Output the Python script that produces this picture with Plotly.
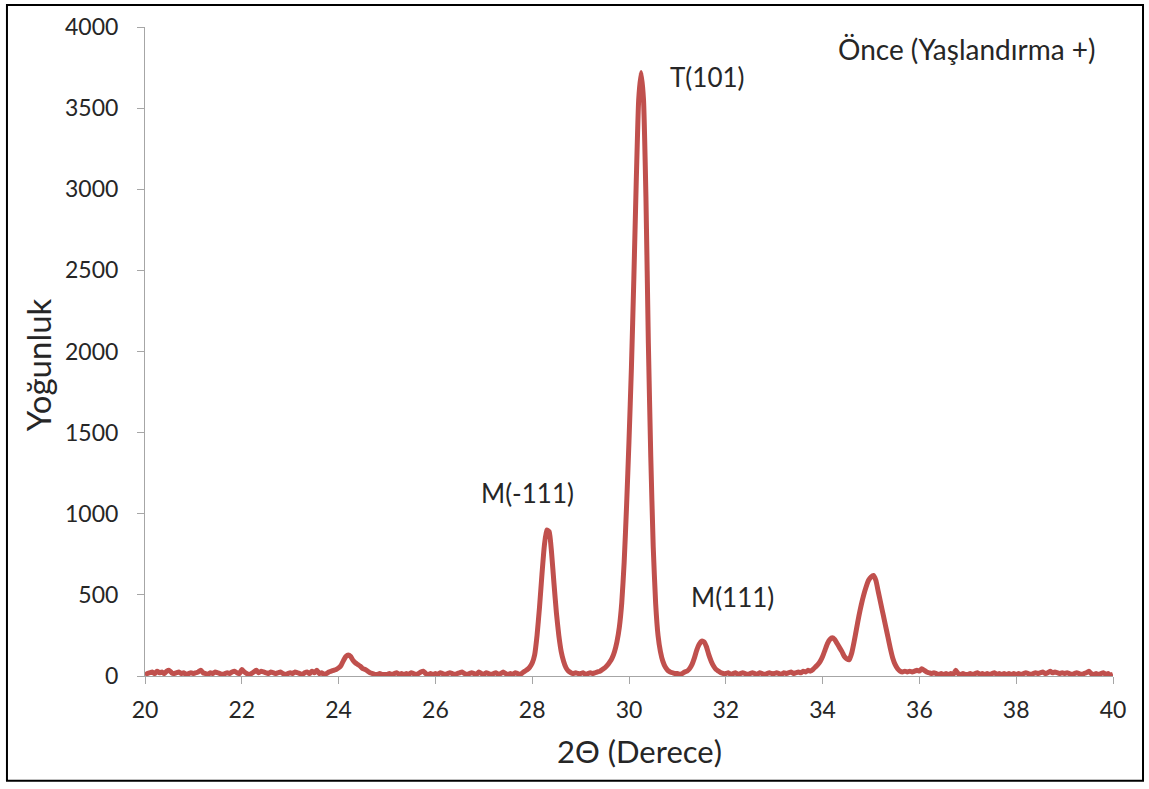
import numpy as np
import plotly.graph_objects as go

# 2-theta scan grid (0.05 degree step, 20..40)
two_theta = np.round(np.arange(0, 401) * 0.05 + 20.0, 2)

# Intensity, one row per degree (20 values each) + final point
intensity_rows = [
    [5, 15, 20, 25, 15, 30, 20, 25, 15, 30, 35, 20, 15, 20, 25, 15, 20, 10, 15, 20],            # 20
    [15, 20, 25, 35, 20, 15, 10, 20, 15, 25, 20, 15, 10, 15, 20, 15, 25, 30, 20, 15],           # 21
    [40, 25, 15, 10, 15, 25, 35, 20, 30, 25, 20, 15, 25, 20, 15, 20, 25, 15, 10, 15],           # 22
    [20, 15, 25, 20, 15, 10, 20, 25, 15, 30, 20, 35, 15, 20, 10, 15, 25, 30, 35, 40],           # 23
    [50, 65, 95, 120, 130, 120, 95, 80, 70, 60, 45, 40, 30, 20, 15, 10, 10, 15, 10, 10],        # 24
    [10, 15, 10, 15, 20, 10, 15, 10, 15, 10, 20, 15, 10, 15, 25, 30, 15, 10, 15, 10],           # 25
    [15, 10, 20, 15, 10, 15, 20, 15, 10, 15, 20, 25, 15, 10, 15, 20, 15, 10, 25, 15],           # 26
    [10, 20, 15, 10, 15, 20, 10, 15, 25, 15, 10, 15, 10, 20, 15, 10, 20, 30, 40, 55],           # 27
    [80, 130, 250, 420, 620, 800, 900, 890, 760, 570, 390, 250, 150, 90, 50, 30, 20, 15, 20, 15],  # 28
    [15, 20, 10, 15, 20, 15, 20, 25, 30, 40, 50, 65, 85, 110, 150, 210, 300, 450, 700, 1050],   # 29
    [1450, 1900, 2450, 3050, 3550, 3720, 3550, 2950, 2050, 1350, 800, 450, 250, 150, 90, 55, 35, 25, 20, 15],  # 30
    [15, 10, 15, 25, 30, 45, 70, 110, 160, 195, 215, 210, 180, 130, 90, 60, 40, 30, 20, 15],    # 31
    [15, 20, 10, 15, 20, 10, 15, 20, 15, 10, 15, 20, 15, 10, 20, 15, 10, 15, 20, 15],           # 32
    [15, 20, 15, 10, 20, 15, 20, 25, 15, 20, 25, 20, 30, 25, 35, 30, 40, 55, 70, 90],           # 33
    [120, 160, 200, 225, 235, 225, 200, 175, 150, 120, 105, 100, 140, 210, 290, 370, 440, 500, 550, 590],  # 34
    [610, 620, 590, 520, 450, 380, 310, 240, 170, 110, 70, 45, 30, 25, 30, 25, 30, 25, 30, 35], # 35
    [30, 45, 35, 25, 20, 15, 20, 15, 10, 15, 10, 15, 10, 15, 10, 35, 15, 10, 15, 10],           # 36
    [10, 15, 10, 15, 20, 10, 15, 10, 15, 10, 15, 20, 10, 15, 10, 15, 10, 15, 10, 15],           # 37
    [10, 15, 10, 15, 20, 15, 10, 15, 20, 15, 20, 25, 15, 20, 30, 20, 25, 20, 15, 20],           # 38
    [15, 20, 15, 10, 15, 20, 15, 10, 15, 20, 30, 15, 10, 15, 10, 15, 20, 10, 15, 5],            # 39
    [10],                                                                                       # 40
]
intensity = [v for row in intensity_rows for v in row]

x_ticks = [20, 22, 24, 26, 28, 30, 32, 34, 36, 38, 40]
y_ticks = [0, 500, 1000, 1500, 2000, 2500, 3000, 3500, 4000]

peak_labels = ["T(101)", "M(-111)", "M(111)"]
peak_label_x = [31.61, 27.91, 32.13]
peak_label_y = [3690, 1125, 485]
sample_label = "Önce (Yaşlandırma +)"
x_title = "2Θ (Derece)"
y_title = "Yoğunluk"

FONT = "Lato"
AXIS_COLOR = "#a6a6a6"
TEXT_COLOR = "#262626"

fig = go.Figure()
fig.add_trace(go.Scatter(
    x=two_theta, y=intensity, mode="lines",
    line=dict(color="#c0504d", width=5, shape="spline", smoothing=0.5),
    showlegend=False, hoverinfo="skip",
))

for lbl, lx, ly in zip(peak_labels, peak_label_x, peak_label_y):
    fig.add_annotation(x=lx, y=ly, text=lbl, showarrow=False,
                       xanchor="center", yanchor="middle",
                       font=dict(family=FONT, size=26, color=TEXT_COLOR))

fig.add_annotation(x=36.97, y=3865, text=sample_label, showarrow=False,
                   xanchor="center", yanchor="middle",
                   font=dict(family=FONT, size=28, color=TEXT_COLOR))

# axis titles
fig.add_annotation(xref="paper", yref="paper", x=0.511, y=-0.115, text=x_title,
                   xanchor="center", yanchor="middle",
                   showarrow=False, font=dict(family=FONT, size=31, color=TEXT_COLOR))
fig.add_annotation(xref="paper", yref="paper", x=-0.1105, y=0.479, text=y_title,
                   textangle=-90, xanchor="center", yanchor="middle", showarrow=False,
                   font=dict(family=FONT, size=33, color=TEXT_COLOR))

# outer frame of the picture
fig.add_shape(type="rect", xref="paper", yref="paper",
              x0=-0.1426, x1=1.031, y0=-0.1613, y1=1.0338,
              line=dict(color="black", width=2), fillcolor="rgba(0,0,0,0)")

fig.update_layout(
    width=1149, height=789,
    margin=dict(l=145, r=36, t=25, b=113),
    paper_bgcolor="white", plot_bgcolor="white",
    font=dict(family=FONT, color=TEXT_COLOR),
    xaxis=dict(
        range=[20, 40], tickvals=x_ticks, ticktext=[str(v) for v in x_ticks],
        showgrid=False, zeroline=False, showline=True, linecolor=AXIS_COLOR, linewidth=1,
        ticks="outside", ticklen=7, tickcolor=AXIS_COLOR, ticklabelstandoff=6,
        tickfont=dict(family=FONT, size=23, color=TEXT_COLOR),
    ),
    yaxis=dict(
        range=[0, 4000], tickvals=y_ticks, ticktext=[str(v) for v in y_ticks],
        showgrid=False, zeroline=False, showline=True, linecolor=AXIS_COLOR, linewidth=1,
        ticks="outside", ticklen=7, tickcolor=AXIS_COLOR, ticklabelstandoff=14,
        tickfont=dict(family=FONT, size=23, color=TEXT_COLOR),
    ),
)

fig.write_html("out.html")
